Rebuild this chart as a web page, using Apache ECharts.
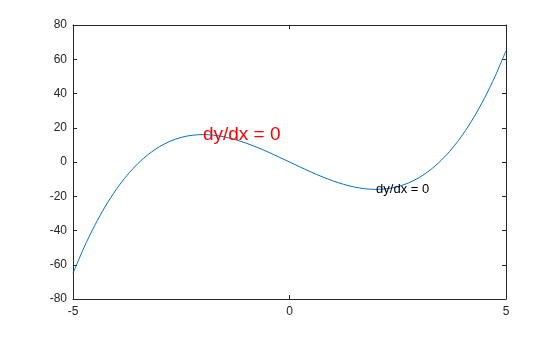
<!DOCTYPE html>
<html><head><meta charset="utf-8">
<script src="https://cdn.jsdelivr.net/npm/echarts@6/dist/echarts.min.js"></script>
<style>html,body{margin:0;padding:0;background:#fff}#c{width:560px;height:337px}</style>
</head><body><div id="c"></div>
<script>
const xValues = [-5,-4.75,-4.5,-4.25,-4,-3.75,-3.5,-3.25,-3,-2.75,-2.5,-2.25,-2,-1.75,-1.5,-1.25,-1,-0.75,-0.5,-0.25,0,0.25,0.5,0.75,1,1.25,1.5,1.75,2,2.25,2.5,2.75,3,3.25,3.5,3.75,4,4.25,4.5,4.75,5];
const yValues = [-65,-50.17,-37.13,-25.77,-16,-7.73,-0.88,4.67,9,12.2,14.38,15.61,16,15.64,14.63,13.05,11,8.58,5.88,2.98,0,-2.98,-5.88,-8.58,-11,-13.05,-14.63,-15.64,-16,-15.61,-14.38,-12.2,-9,-4.67,0.88,7.73,16,25.77,37.13,50.17,65];
const xTicks = [-5, 0, 5];
const yTicks = [-80, -60, -40, -20, 0, 20, 40, 60, 80];
const annotations = [
  {x: -2, y: 16, text: 'dy/dx = 0', color: '#ff0000', size: 19},
  {x: 2, y: -16, text: 'dy/dx = 0', color: '#000000', size: 13}
];

const chart = echarts.init(document.getElementById('c'));
const axisLine = {show: true, onZero: false, lineStyle: {color: '#262626', width: 1}};
const tick = {show: true, inside: true, length: 4, lineStyle: {color: '#262626'}};
const labelStyle = {color: '#262626', fontSize: 12, fontFamily: 'Liberation Sans, Arial, sans-serif'};
chart.setOption({
  animation: false,
  grid: {left: 73, top: 25, width: 433, height: 274, containLabel: false},
  xAxis: [
    {type: 'value', min: xTicks[0], max: xTicks[xTicks.length-1], interval: 5,
     axisLine: axisLine, axisTick: tick,
     axisLabel: Object.assign({margin: 7}, labelStyle), splitLine: {show: false}},
    {type: 'value', position: 'top', min: -5, max: 5, interval: 5,
     axisLine: axisLine, axisTick: tick,
     axisLabel: {show: false}, splitLine: {show: false}}
  ],
  yAxis: [
    {type: 'value', min: yTicks[0], max: yTicks[yTicks.length-1], interval: 20,
     axisLine: axisLine, axisTick: tick,
     axisLabel: Object.assign({margin: 6}, labelStyle), splitLine: {show: false}},
    {type: 'value', position: 'right', min: -80, max: 80, interval: 20,
     axisLine: axisLine, axisTick: tick,
     axisLabel: {show: false}, splitLine: {show: false}}
  ],
  series: [
    {type: 'line', data: xValues.map((x, i) => [x, yValues[i]]), smooth: 0.3,
     showSymbol: false, lineStyle: {color: '#0072bd', width: 1}, z: 2},
    {type: 'scatter', symbolSize: 0, z: 5, silent: true, itemStyle: {opacity: 1},
     data: annotations.map(a => ({value: [a.x, a.y],
       label: {show: true, position: 'right', distance: 0, formatter: a.text, opacity: 1,
               color: a.color, fontSize: a.size, fontFamily: 'Liberation Sans, Arial, sans-serif'}}))}
  ]
});
</script></body></html>
